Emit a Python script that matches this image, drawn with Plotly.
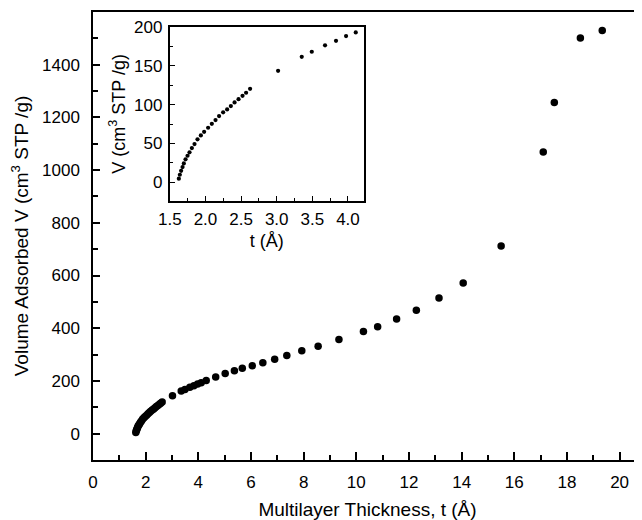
import plotly.graph_objects as go

# Main data: multilayer thickness t (Å) vs volume adsorbed V (cm3 STP/g)
t_main = [1.626, 1.640, 1.658, 1.678, 1.696, 1.720, 1.748, 1.776, 1.809, 1.846,
          1.888, 1.935, 1.981, 2.037, 2.089, 2.141, 2.191, 2.248, 2.304, 2.356,
          2.408, 2.464, 2.520, 2.570, 2.626,
          3.019, 3.351, 3.492, 3.678, 3.832, 3.973, 4.109, 4.30,
          4.66, 5.02, 5.37, 5.67, 6.05, 6.45, 6.90, 7.36, 7.93, 8.55,
          9.34, 10.27, 10.81, 11.53, 12.28, 13.14, 14.06, 15.50,
          17.10, 17.52, 18.51, 19.34]
v_main = [4.7, 9.8, 14.9, 19.7, 24.4, 29.6, 34.2, 38.6, 44.1, 49.2,
          55.3, 60.4, 65.0, 70.2, 75.3, 80.1, 85.2, 90.0, 93.8, 98.1,
          102.8, 107.0, 111.3, 115.2, 120.3,
          143.4, 161.4, 167.9, 176.1, 182.0, 188.0, 192.8, 202.0,
          215, 228, 239, 248, 258, 269, 282, 297, 315, 332,
          357, 388, 406, 435, 468, 515, 572, 712,
          1069, 1257, 1501, 1530]

main_xticks = [0, 2, 4, 6, 8, 10, 12, 14, 16, 18, 20]
main_yticks = [0, 200, 400, 600, 800, 1000, 1200, 1400]
inset_xticks = [1.5, 2.0, 2.5, 3.0, 3.5, 4.0]
inset_xlabels = ["1.5", "2.0", "2.5", "3.0", "3.5", "4.0"]
inset_yticks = [0, 50, 100, 150, 200]

FONT = "Liberation Sans, Arial, sans-serif"

fig = go.Figure()
fig.add_trace(go.Scatter(x=t_main, y=v_main, mode="markers",
                         marker=dict(color="black", size=7.5),
                         xaxis="x", yaxis="y", showlegend=False, hoverinfo="x+y"))
fig.add_trace(go.Scatter(x=t_main, y=v_main, mode="markers",
                         marker=dict(color="black", size=4.2),
                         xaxis="x2", yaxis="y2", showlegend=False, cliponaxis=True,
                         hoverinfo="x+y"))

axis_common = dict(showgrid=False, zeroline=False, showline=True, linecolor="black",
                   automargin=False,
                   ticks="inside", tickcolor="black", tickfont=dict(family=FONT, size=17, color="black"))

# The page body adds an 8px margin, so the figure is sized/offset to compensate.
fig.update_layout(
    width=634, height=512,
    margin=dict(l=85, r=0, t=4, b=60),
    paper_bgcolor="white", plot_bgcolor="white",
    font=dict(family=FONT, color="black"),
    xaxis=dict(**axis_common, domain=[0, 1], range=[0, 20.85], tickvals=main_xticks,
               ticklen=8, tickwidth=1.5, linewidth=1.5, mirror=True,
               minor=dict(ticks="inside", dtick=1, ticklen=5, tickcolor="black", tickwidth=1.5),
               ticklabelstandoff=6,
               title=dict(text="Multilayer Thickness, t (Å)", font=dict(size=19, family=FONT),
                          standoff=12)),
    yaxis=dict(**axis_common, domain=[0, 1], range=[-100, 1600], tickvals=main_yticks,
               ticklen=7, tickwidth=1.5, linewidth=1.5, mirror=False,
               minor=dict(ticks="inside", dtick=100, ticklen=5, tickcolor="black", tickwidth=1.5),
               ticklabelstandoff=8,
               title=dict(text="Volume Adsorbed V (cm<sup>3</sup> STP /g)",
                          font=dict(size=19, family=FONT), standoff=12)),
    xaxis2=dict(**axis_common, domain=[0.140, 0.493], anchor="y2", range=[1.5, 4.22],
                tickvals=inset_xticks, ticktext=inset_xlabels,
                ticklen=5, tickwidth=1.2, linewidth=2, mirror=True,
                minor=dict(ticks="inside", dtick=0.25, ticklen=3, tickcolor="black", tickwidth=1.2),
                ticklabelstandoff=2,
                title=dict(text="t (Å)", font=dict(size=18, family=FONT), standoff=6)),
    yaxis2=dict(**axis_common, domain=[0.578, 0.967], anchor="x2", range=[-24, 200],
                tickvals=inset_yticks, ticklen=5, tickwidth=1.2, linewidth=2, mirror=True,
                minor=dict(ticks="inside", dtick=25, ticklen=3, tickcolor="black", tickwidth=1.2),
                ticklabelstandoff=2,
                title=dict(text="V (cm<sup>3</sup> STP /g)", font=dict(size=18, family=FONT),
                           standoff=4)),
)

fig.write_html("out.html")
